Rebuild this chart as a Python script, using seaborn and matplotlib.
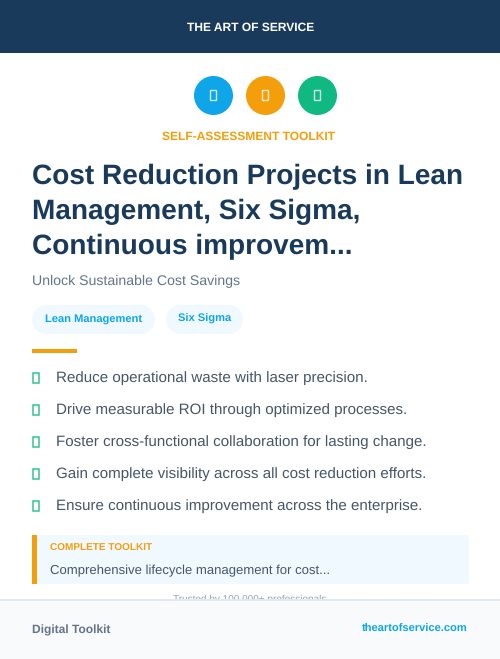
import matplotlib
matplotlib.use('Agg')
import matplotlib.pyplot as plt
from matplotlib.patches import Rectangle
import pandas as pd
import seaborn as sns

NAVY = '#1a3a5c'
BLUE = '#0ea5e9'
ORANGE = '#f59e0b'
GREEN = '#10b981'
SLATE = '#475569'
PALE = '#f0f9ff'

icon_x = [213.5, 265.5, 317.5]
icon_y = [95.5, 95.5, 95.5]
icon_colors = [BLUE, ORANGE, GREEN]

title_lines = ['Cost Reduction Projects in Lean', 'Management, Six Sigma,', 'Continuous improvem...']
title_y = [184, 219, 254]

tags = ['Lean Management', 'Six Sigma']
tag_left = [32, 166]
tag_right = [155, 243]

bullets = [
    'Reduce operational waste with laser precision.',
    'Drive measurable ROI through optimized processes.',
    'Foster cross-functional collaboration for lasting change.',
    'Gain complete visibility across all cost reduction efforts.',
    'Ensure continuous improvement across the enterprise.',
]
bullet_y = [382, 414, 446, 478, 510]

sns.set_theme(style='white')
plt.rcParams['font.family'] = ['Liberation Sans', 'DejaVu Sans']
plt.rcParams['text.hinting'] = 'no_hinting'

fig = plt.figure(figsize=(5, 6.59), dpi=100)
ax = fig.add_axes([0, 0, 1, 1])
ax.set_xlim(0, 500)
ax.set_ylim(659, 0)
ax.axis('off')


def px(size):
    return size * 72 / 100


# header
ax.add_patch(Rectangle((0, 0), 500, 53, color=NAVY, lw=0))
ax.text(250.5, 31, 'THE ART OF SERVICE', color='white', fontsize=px(12), fontweight='bold',
        ha='center', va='baseline')

# icons
icons = pd.DataFrame({'x': icon_x, 'y': icon_y, 'c': icon_colors})
sns.scatterplot(data=icons, x='x', y='y', hue='c', palette=icon_colors, s=(39 * 0.72) ** 2,
                linewidth=0, legend=False, ax=ax, zorder=3)
ax.set_xlabel('')
ax.set_ylabel('')
for x in icon_x:
    ax.add_patch(Rectangle((x - 3.7, 90), 6.4, 10, fill=False, ec='white', lw=1.0, alpha=0.8, zorder=4))

ax.text(249, 140, 'SELF-ASSESSMENT TOOLKIT', color=ORANGE, fontsize=px(12), fontweight='bold',
        ha='center', va='baseline')

# title
for line, y in zip(title_lines, title_y):
    ax.text(32, y, line, color=NAVY, fontsize=px(28), fontweight='bold', ha='left', va='baseline')

ax.text(32, 285, 'Unlock Sustainable Cost Savings', color='#64748b', fontsize=px(14.15),
        ha='left', va='baseline')

# tags
for tag, left, right in zip(tags, tag_left, tag_right):
    ax.plot([left + 14, right - 15], [319, 319], color=PALE, lw=px(29), solid_capstyle='round')
    ax.text((left + right) / 2, 322, tag, color=BLUE, fontsize=px(11.15), fontweight='bold',
            ha='center', va='baseline')

ax.add_patch(Rectangle((32, 349), 45, 4, color=ORANGE, lw=0))

# bullets
for text, y in zip(bullets, bullet_y):
    ax.add_patch(Rectangle((33.2, y - 9.5), 6.2, 10, fill=False, ec=GREEN, lw=1.1, alpha=0.85))
    ax.text(56, y, text, color=SLATE, fontsize=px(15.15), ha='left', va='baseline')

# callout
ax.add_patch(Rectangle((32, 535), 437, 49, color=PALE, lw=0))
ax.add_patch(Rectangle((32, 535), 5, 49, color=ORANGE, lw=0))
ax.text(50, 551, 'COMPLETE TOOLKIT', color=ORANGE, fontsize=px(10), fontweight='bold',
        ha='left', va='baseline')
ax.text(50, 574, 'Comprehensive lifecycle management for cost...', color=SLATE, fontsize=px(13.15),
        ha='left', va='baseline')

ax.text(250, 601.5, 'Trusted by 100,000+ professionals', color='#94a3b8', fontsize=px(10),
        ha='center', va='baseline', zorder=1)

# footer covers the bottom of the trust line
ax.add_patch(Rectangle((0, 600), 500, 59, color='#f8fafc', lw=0, zorder=5))
ax.add_patch(Rectangle((0, 599), 500, 2, color='#e2e8f0', lw=0, zorder=6))
ax.text(32, 633, 'Digital Toolkit', color='#64748b', fontsize=px(12), fontweight='bold',
        ha='left', va='baseline', zorder=7)
ax.text(468, 632, 'theartofservice.com', color=BLUE, fontsize=px(11.1), fontweight='bold',
        ha='right', va='baseline', zorder=7)

fig.savefig('out.png', dpi=100)
